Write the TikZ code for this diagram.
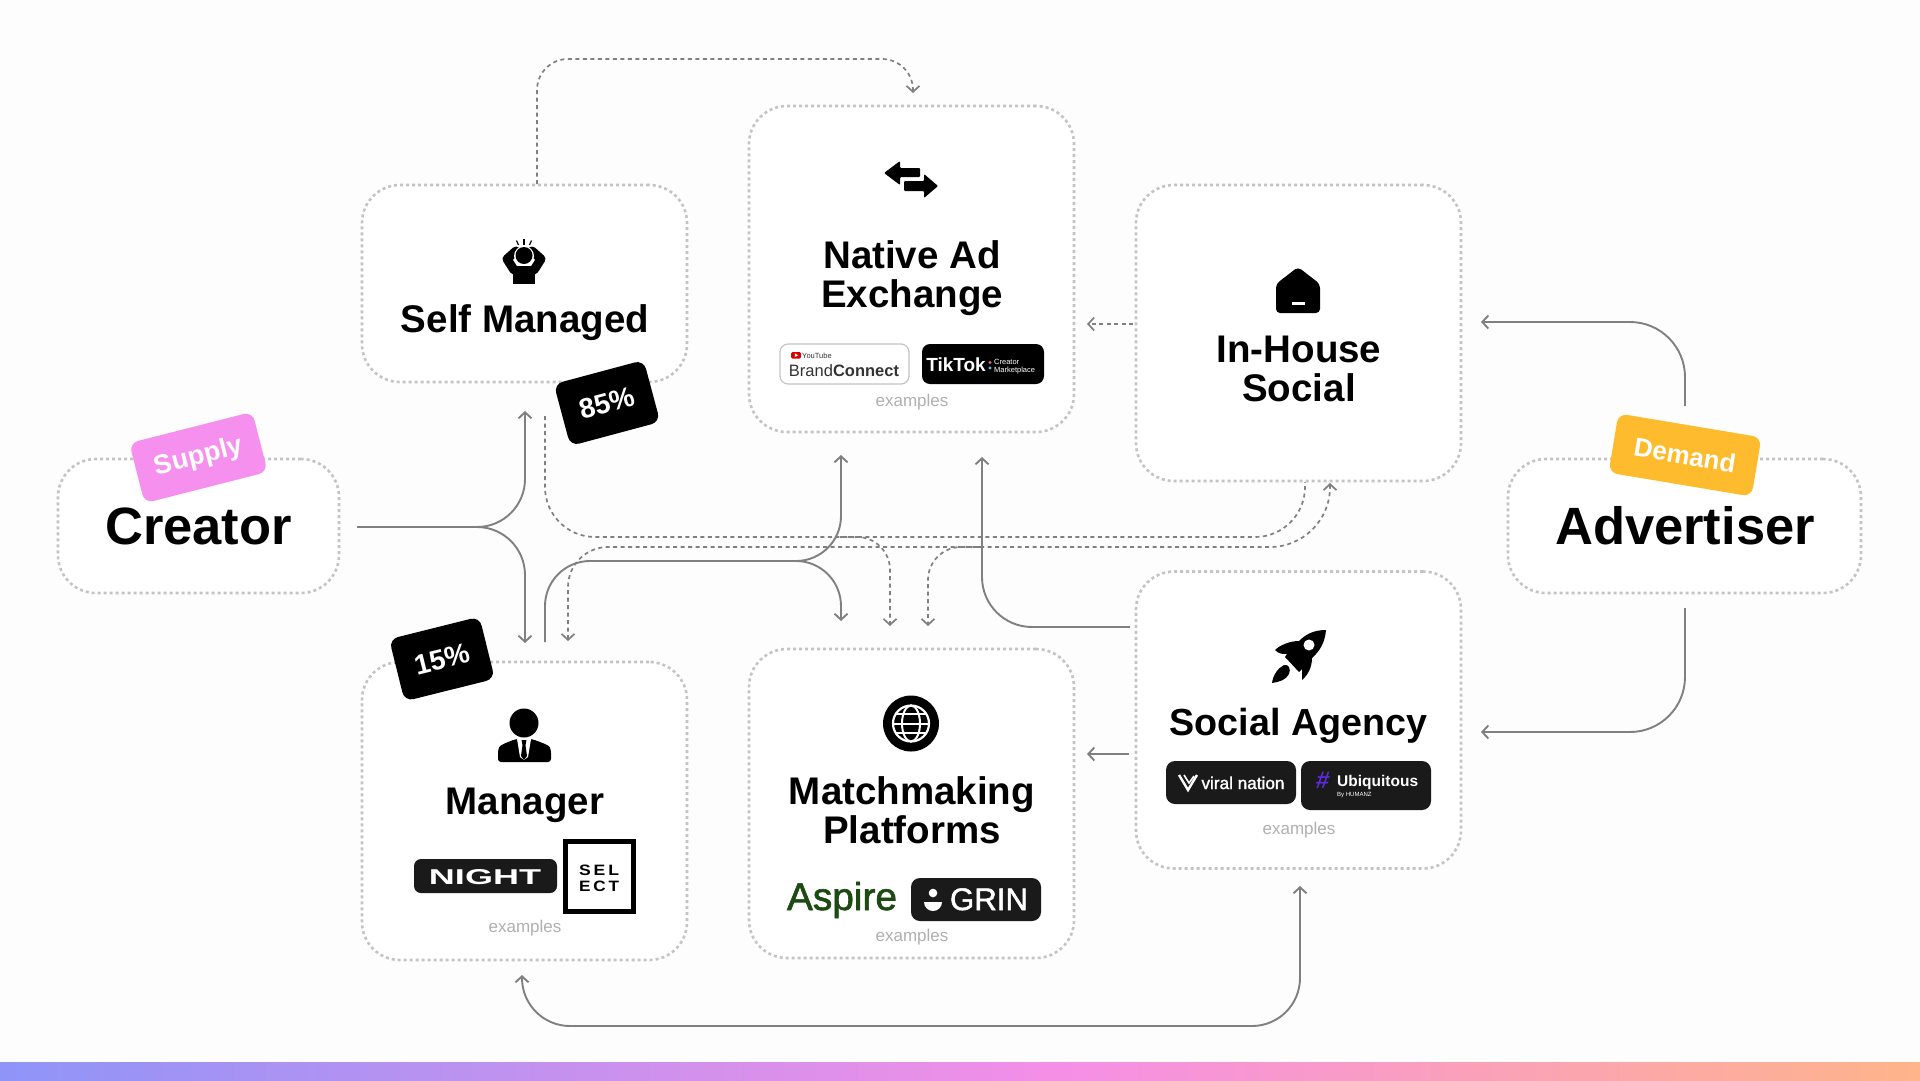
\documentclass[tikz,border=0pt]{standalone}
\usepackage{fontspec}
\usepackage{graphicx}
\setmainfont{Liberation Sans}
\newfontfamily\medfont[FakeBold=1.6]{Liberation Sans}
\usetikzlibrary{arrows.meta}
\definecolor{bgc}{HTML}{FDFDFD}
\definecolor{dotc}{HTML}{C4C4C4}
\definecolor{linec}{HTML}{808080}
\definecolor{exc}{HTML}{B0B0B0}
\definecolor{pinkc}{HTML}{F590EE}
\definecolor{yelc}{HTML}{FFBB2E}
\definecolor{chipc}{HTML}{1A1A1A}
\definecolor{aspc}{HTML}{1C4A12}
\definecolor{hashc}{HTML}{5B2BD8}
\definecolor{gradA}{HTML}{8F94F8}
\definecolor{gradB}{HTML}{F58FE6}
\definecolor{gradC}{HTML}{FFB48A}
\newcommand\fs[1]{\fontsize{#1}{#1}\selectfont}
\tikzset{
  cardbox/.style={draw=dotc,fill=white,line width=2.6pt,dash pattern=on 3pt off 3pt,rounded corners=38pt,minimum width=#1,inner sep=0pt},
  ttl/.style={anchor=base,inner sep=0pt,align=center,font=\fs{38.5}\bfseries,text=black},
  bigttl/.style={anchor=base,inner sep=0pt,font=\fs{52.5}\bfseries,text=black},
  exlabel/.style={anchor=base,inner sep=0pt,font=\fs{17},text=exc},
  badge/.style={rounded corners=9pt,inner sep=0pt,text=white,font=\fs{#1}\bfseries},
  conn/.style={draw=linec,line width=1.9pt,rounded corners=#1,>={Straight Barb[length=6pt,width=13pt]}},
  dconn/.style={draw=linec,line width=1.7pt,dash pattern=on 4pt off 3.5pt,rounded corners=#1,>={Straight Barb[length=6pt,width=13pt]}},
  logotxt/.style={inner sep=0pt,anchor=base,text=white}
}
\begin{document}
\begin{tikzpicture}[x=1pt,y=-1pt]
\useasboundingbox (0,0) rectangle (1920,1080);
\fill[bgc] (0,0) rectangle (1920,1080);
\shade[left color=gradA,right color=gradB] (0,1062) rectangle (1060,1080);
\shade[left color=gradB,right color=gradC] (1060,1062) rectangle (1920,1080);

% cards
\node[cardbox=325pt,minimum height=197pt] (selfbox) at (524.5,283.5) {};
\node[cardbox=325pt,minimum height=326pt] (nativebox) at (911.5,269) {};
\node[cardbox=325pt,minimum height=296pt] (housebox) at (1298.5,333) {};
\node[cardbox=281pt,minimum height=134pt] (creatorbox) at (198.5,526) {};
\node[cardbox=353pt,minimum height=134pt] (advbox) at (1684.5,526) {};
\node[cardbox=325pt,minimum height=298pt] (mgrbox) at (524.5,811) {};
\node[cardbox=325pt,minimum height=309pt] (matchbox) at (911.5,803.5) {};
\node[cardbox=325pt,minimum height=297pt] (agencybox) at (1298.5,720) {};

% connector ends
\coordinate (cOut) at (357,527);
\coordinate (cTurn) at (525,527);
\coordinate (cUp) at (525,411);
\coordinate (cDown) at (525,643);
\coordinate (mOut) at (545,642);
\coordinate (mA) at (545,561);
\coordinate (mB) at (841,561);
\coordinate (mUp) at (841,455);
\coordinate (mDown) at (841,621);
\coordinate (mSplit) at (780,561);
\coordinate (aOut) at (1130,627);
\coordinate (aA) at (982,627);
\coordinate (aEnd) at (982,457);
\coordinate (a2Out) at (1129,754);
\coordinate (a2End) at (1087,754);
\coordinate (hOut) at (1133,324);
\coordinate (hEnd) at (1087,324);
\coordinate (vTop) at (1685,406);
\coordinate (vTopA) at (1685,322);
\coordinate (vTopE) at (1481,322);
\coordinate (vBot) at (1685,608);
\coordinate (vBotA) at (1685,732);
\coordinate (vBotE) at (1481,732);
\coordinate (bR) at (1300,886);
\coordinate (bRA) at (1300,1026);
\coordinate (bLA) at (522,1026);
\coordinate (bL) at (522,975);
\coordinate (tS) at (537,184);
\coordinate (tA) at (537,59);
\coordinate (tB) at (913,59);
\coordinate (tE) at (913,93);
\coordinate (uS) at (545,416);
\coordinate (uA) at (545,537);
\coordinate (uB) at (1305,537);
\coordinate (uE) at (1305,482);
\coordinate (uSplit) at (840,537);
\coordinate (uC) at (890,537);
\coordinate (uD) at (890,626);
\coordinate (lS) at (568,641);
\coordinate (lA) at (568,547);
\coordinate (lB) at (1330,547);
\coordinate (lE) at (1330,483);
\coordinate (lSplit) at (980,547);
\coordinate (lC) at (928,547);
\coordinate (lD) at (928,626);

% solid connectors
\draw[conn=48pt,->] (cOut) -- (cTurn) -- (cUp);
\draw[conn=48pt,->] (cOut) -- (cTurn) -- (cDown);
\draw[conn=45pt,->] (mOut) -- (mA) -- (mB) -- (mUp);
\draw[conn=45pt,->] (mSplit) -- (mB) -- (mDown);
\draw[conn=50pt,->] (aOut) -- (aA) -- (aEnd);
\draw[conn=0pt,->] (a2Out) -- (a2End);
\draw[conn=55pt,->] (vTop) -- (vTopA) -- (vTopE);
\draw[conn=55pt,->] (vBot) -- (vBotA) -- (vBotE);
\draw[conn=48pt,<->] (bR) -- (bRA) -- (bLA) -- (bL);
% dashed connectors
\draw[dconn=0pt,->] (hOut) -- (hEnd);
\draw[dconn=31pt,->] (tS) -- (tA) -- (tB) -- (tE);
\draw[dconn=50pt] (uS) -- (uA) -- (uB) -- (uE);
\draw[dconn=33pt,->] (uSplit) -- (uC) -- (uD);
\draw[dconn=40pt,<-] (lS) -- (lA) -- (lSplit);
\draw[dconn=60pt,->] (lSplit) -- (lB) -- (lE);
\draw[dconn=33pt,->] (lSplit) -- (lC) -- (lD);

% titles
\node[ttl] (tself) at (525,332) {Self Managed};
\node[ttl] (tnat) at (912,268) {Native Ad};
\node[ttl] (tnat2) at (912,307) {Exchange};
\node[ttl] (thou) at (1299,362) {In-House};
\node[ttl] (thou2) at (1299,401) {Social};
\node[bigttl] (tcre) at (198.5,544) {Creator};
\node[bigttl] (tadv) at (1685,544) {Advertiser};
\node[ttl] (tmgr) at (525,814) {Manager};
\node[ttl] (tmat) at (912,804) {Matchmaking};
\node[ttl,font=\fs{37.7}\bfseries] (tage) at (1298.5,735.5) {Social Agency};
\node[ttl] (tmat2) at (912,843) {Platforms};

% badges
\node[badge=27,fill=pinkc,minimum width=127pt,minimum height=62pt,rotate=14.3] (supply) at (198.5,457.5) {Supply};
\node[badge=26,fill=yelc,minimum width=145pt,minimum height=60pt,rotate=-9.5] (demand) at (1685,455) {Demand};
\node[badge=28,fill=black,minimum width=93pt,minimum height=64pt,rotate=15] (b85) at (607,403) {85\%};
\node[badge=28,fill=black,minimum width=93pt,minimum height=64pt,rotate=14] (b15) at (442,659) {15\%};

% examples labels
\node[exlabel] (ex1) at (912,406) {examples};
\node[exlabel] (ex2) at (525,932) {examples};
\node[exlabel] (ex3) at (912,941) {examples};
\node[exlabel] (ex4) at (1299,834) {examples};

% BrandConnect chip
\draw[draw=dotc,fill=white,line width=1.2pt,rounded corners=8pt] (780,344) rectangle (909,384);
\fill[red!85!black,rounded corners=1.5pt] (791,352) rectangle (801,358.5);
\fill[white] (794.8,353.3) -- (798.2,355.2) -- (794.8,357.1) -- cycle;
\node[inner sep=0pt,anchor=base west,font=\fs{7.5},text=black!80] (yt) at (802,358) {YouTube};
\node[inner sep=0pt,anchor=base,font=\fs{16.5},text=black!80] (bc) at (844,376) {Brand{\bfseries Connect}};
% TikTok chip
\fill[black,rounded corners=8pt] (922,344) rectangle (1044,384);
\node[logotxt,font=\fs{19}\bfseries] (tt) at (956,371) {TikTok};
\fill[pinkc!60!red] (990,362.5) circle (1.6pt);
\fill[cyan!70!white] (990,368) circle (1.6pt);
\node[inner sep=0pt,anchor=base west,font=\fs{7.5},text=white] (tt2) at (994,364) {Creator};
\node[inner sep=0pt,anchor=base west,font=\fs{7.5},text=white] (tt3) at (994,372) {Marketplace};
% NIGHT / SELECT
\fill[chipc,rounded corners=7pt] (414,859) rectangle (557,893);
\node[logotxt] (night) at (485,884) {\resizebox{112pt}{15pt}{\bfseries NIGHT}};
\draw[draw=black,fill=white,line width=5pt] (565,841.5) rectangle (633.5,911.5);
\node[inner sep=0pt,anchor=base] (sel) at (599,875) {\resizebox{40pt}{10.5pt}{\bfseries S\,E\,L}};
\node[inner sep=0pt,anchor=base] (ect) at (599,891) {\resizebox{40pt}{10.5pt}{\bfseries E\,C\,T}};
% Aspire / GRIN
\node[inner sep=0pt,anchor=base,text=aspc] (asp) at (842,910) {\resizebox{110pt}{!}{\medfont\fs{37}Aspire}};
\fill[chipc,rounded corners=9pt] (911,878) rectangle (1041,921);
\fill[white] (933,893) circle (4.3pt);
\fill[white] (924,902) arc[start angle=180,end angle=360,radius=9pt] -- cycle;
\node[logotxt] (grin) at (989,910) {\resizebox{78pt}{!}{\medfont\fs{30}GRIN}};
% viral nation / Ubiquitous
\fill[chipc,rounded corners=9pt] (1166,761) rectangle (1296,804);
\draw[white,line width=2.4pt,line join=miter] (1179,775) -- (1188,790) -- (1197,775);
\draw[white,line width=1.6pt] (1184,775) -- (1189,783) -- (1194,776);
\node[logotxt] (vn) at (1243,789) {\resizebox{83pt}{!}{\medfont\fs{19.5}viral nation}};
\fill[chipc,rounded corners=9pt] (1301,761) rectangle (1431,810);
\node[inner sep=0pt,font=\fs{24}\bfseries,text=hashc,xslant=0.15] (hash) at (1323,780) {\#};
\node[logotxt,font=\fs{15.5}\bfseries,anchor=base west] (ubq) at (1337,786) {Ubiquitous};
\node[logotxt,font=\fs{6},anchor=base west] (hum) at (1337,796) {By HUMANZ};

% icons
% self managed
\draw[black,line width=9pt,line join=round,line cap=round] (514,270) -- (507,259) -- (516,251);
\draw[black,line width=9pt,line join=round,line cap=round] (534,270) -- (541,259) -- (532,251);
\fill[black] (513,266) rectangle (535,284);
\fill[white] (524,256) circle (10pt);
\fill[black] (524,255.5) circle (8.5pt);
\draw[black,line width=1.2pt] (524,239) -- (524,244.5);
\draw[black,line width=1.2pt] (516.5,240.5) -- (518.5,245);
\draw[black,line width=1.2pt] (531.5,240.5) -- (529.5,245);
% exchange arrows
\fill[black,rounded corners=1pt] (884,173) -- (900,161) -- (900,168) -- (920,168) -- (920,177) -- (900,177) -- (900,185) -- cycle;
\fill[black,rounded corners=1pt] (938,186) -- (924,174) -- (924,181) -- (904,181) -- (904,191) -- (924,191) -- (924,198) -- cycle;
% house
\fill[black,rounded corners=4pt] (1298,267) -- (1320,284) -- (1320,313) -- (1276,313) -- (1276,284) -- cycle;
\fill[white] (1292,302) rectangle (1305,304.5);
% rocket
\fill[black] (1326,630) .. controls (1314,630) and (1306,634) .. (1299,641) .. controls (1290,641) and (1280,645) .. (1275,650) .. controls (1279,654) and (1282,654) .. (1287,654) -- (1285,657) -- (1299,672) -- (1302,669) .. controls (1302,675) and (1302,678) .. (1302,680) .. controls (1308,675) and (1312,667) .. (1312,658) .. controls (1320,651) and (1325,642) .. (1326,630) -- cycle;
\fill[white] (1309,645) circle (5.5pt);
\fill[black] (1272,683) .. controls (1273,675) and (1278,668) .. (1284,665) .. controls (1289,664) and (1291,669) .. (1289,674) .. controls (1286,680) and (1279,682) .. (1272,683) -- cycle;
% manager person
\fill[black] (524,723) circle (14.5pt);
\fill[black,rounded corners=3pt] (498,762) -- (498,750) .. controls (500,745) and (508,742) .. (516,739) -- (532,739) .. controls (540,742) and (549,745) .. (551,750) -- (551,762) -- cycle;
\fill[white] (517,739) -- (531,739) -- (528,757) -- (524,760) -- (520,757) -- cycle;
\fill[black] (521.5,740) -- (526.5,740) -- (525.5,745) -- (527,756) -- (524,760) -- (521,756) -- (522.5,745) -- cycle;
% globe
\fill[black] (911,723.5) circle (28pt);
\draw[white,line width=2.2pt] (911,723.5) circle (18pt);
\draw[white,line width=2pt] (911,723.5) ellipse [x radius=9pt,y radius=18pt];
\draw[white,line width=2pt] (893,723.5) -- (929,723.5);
\draw[white,line width=2pt] (896,714) -- (926,714);
\draw[white,line width=2pt] (896,733) -- (926,733);
\end{tikzpicture}
\end{document}
